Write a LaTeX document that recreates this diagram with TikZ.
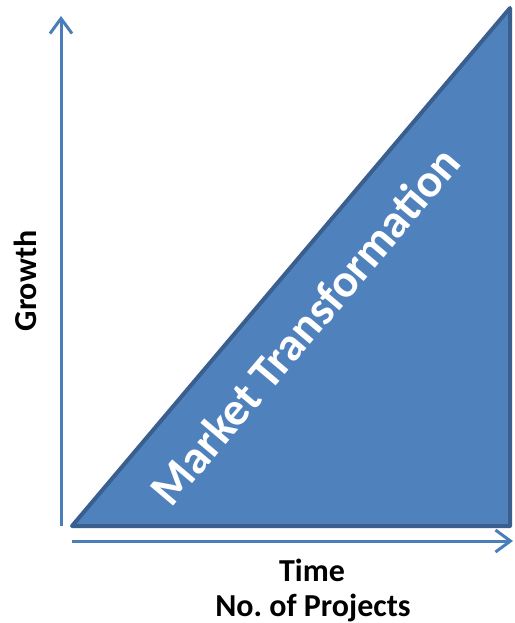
\documentclass[tikz,border=0pt]{standalone}
\usepackage{fontspec}
\setmainfont{Carlito}
\usetikzlibrary{arrows.meta}
\definecolor{axisblue}{HTML}{4A7EBB}
\definecolor{fillblue}{HTML}{4F81BD}
\definecolor{edgeblue}{HTML}{3A5F8E}
\tikzset{
  axisline/.style={draw=axisblue, line width=3pt, -{Straight Barb[length=15pt,width=22pt,line width=3pt]}},
  label/.style={font=\bfseries\fontsize{32}{38}\selectfont, text=black, inner sep=0pt},
}
\begin{document}
\begin{tikzpicture}[x=1pt,y=-1pt]
\useasboundingbox (0,0) rectangle (514,623);
\coordinate (A) at (72,526);
\coordinate (B) at (510,8);
\coordinate (C) at (510,526);
\draw[fill=fillblue, draw=edgeblue, line width=4pt, line join=round] (A) -- (B) -- (C) -- cycle;
\coordinate (yb) at (61,526);
\coordinate (yt) at (61,16);
\coordinate (xb) at (72,541);
\coordinate (xt) at (513,541);
\draw[axisline] (yb) -- (yt);
\draw[axisline] (xb) -- (xt);
\node[label, rotate=90] (growth) at (25,281) {Growth};
\node[label, anchor=base] (time) at (312,581) {Time};
\node[label, anchor=base] (proj) at (313,616) {No.\ of Projects};
\node[font=\bfseries\fontsize{47}{56}\selectfont, text=white, rotate=49.8, inner sep=0pt] (mt) at (305,326) {Market Transformation};
\end{tikzpicture}
\end{document}
